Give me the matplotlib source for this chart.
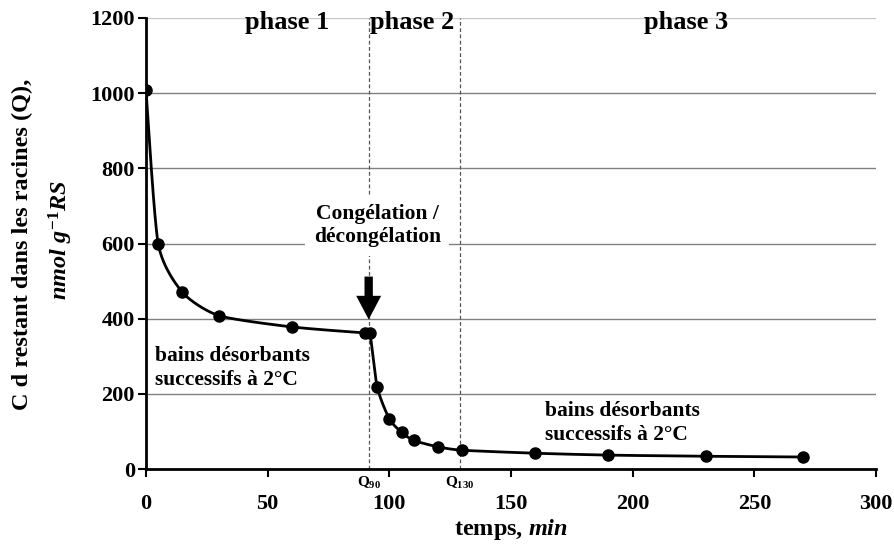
import numpy as np
import matplotlib
matplotlib.use("Agg")
import matplotlib.pyplot as plt

plt.rcParams['font.family'] = ['Liberation Serif', 'DejaVu Serif']
plt.rcParams['mathtext.fontset'] = 'custom'
plt.rcParams['mathtext.rm'] = 'Liberation Serif:bold'
plt.rcParams['mathtext.it'] = 'Liberation Serif:bold:italic'
plt.rcParams['mathtext.bf'] = 'Liberation Serif:bold'

time_min = [0, 5, 15, 30, 60, 90, 92, 95, 100, 105, 110, 120, 130, 160, 190, 230, 270]
cd_remaining = [1008, 600, 470, 408, 378, 362, 362, 218, 133, 98, 76, 59, 50, 42, 37, 34, 32]
x_ticks = [0, 50, 100, 150, 200, 250, 300]
y_ticks = [0, 200, 400, 600, 800, 1000, 1200]
phase_bounds = [91.5, 129]


def catmull_rom(x, y, n=30, tension=0.5):
    x = np.asarray(x, float); y = np.asarray(y, float)
    P = np.column_stack([x, y])
    sx = 1 / 300.0; sy = 1 / 1200.0
    Q = P * [sx, sy]
    out = []
    for i in range(len(Q) - 1):
        p0 = Q[i - 1] if i > 0 else Q[i]
        p1 = Q[i]; p2 = Q[i + 1]
        p3 = Q[i + 2] if i + 2 < len(Q) else Q[i + 1]
        m1 = tension * (p2 - p0) * 0.67
        m2 = tension * (p3 - p1) * 0.67
        t = np.linspace(0, 1, n)[:, None]
        h00 = 2 * t**3 - 3 * t**2 + 1
        h10 = t**3 - 2 * t**2 + t
        h01 = -2 * t**3 + 3 * t**2
        h11 = t**3 - t**2
        seg = h00 * p1 + h10 * m1 + h01 * p2 + h11 * m2
        out.append(seg if i == 0 else seg[1:])
    C = np.vstack(out) / [sx, sy]
    return C[:, 0], C[:, 1]


fig = plt.figure(figsize=(8.94, 5.45), dpi=100)
ax = fig.add_axes([0.1633, 0.1394, 0.8167, 0.8276])

ax.set_xlim(0, 300)
ax.set_ylim(0, 1200)
ax.set_xticks(x_ticks)
ax.set_yticks(y_ticks)
for yv in y_ticks[1:]:
    ax.axhline(yv, color='#808080' if yv < 1200 else '#c8c8c8', lw=1.0, zorder=0)

for xb in phase_bounds:
    ax.axvline(xb, color='#555555', lw=0.9, ls=(0, (3, 2)), zorder=1)

cx, cy = catmull_rom(time_min, cd_remaining)
ax.plot(cx, cy, color='black', lw=2.0, zorder=3)
ax.plot(time_min, cd_remaining, 'o', color='black', ms=8, zorder=4)

for s in ['top', 'right']:
    ax.spines[s].set_visible(False)
for s in ['left', 'bottom']:
    ax.spines[s].set_linewidth(2.0)
ax.tick_params(direction='out', length=6, width=1.5, labelsize=16)
for lab in ax.get_xticklabels() + ax.get_yticklabels():
    lab.set_fontweight('bold')
ax.tick_params(axis='x', pad=12)
ax.tick_params(axis='y', pad=2)

ax.set_xlabel('temps, $\\mathit{min}$', fontsize=17.5, fontweight='bold', labelpad=2)
fig.text(22 / 894, 1 - 244 / 545, 'C d restant dans les racines (Q),', rotation=90,
         ha='center', va='center', fontsize=17.5, fontweight='bold')
fig.text(61 / 894, 1 - 240 / 545, '$\\mathit{nmol\\ g^{-1}RS}$', rotation=90,
         ha='center', va='center', fontsize=17.5, fontweight='bold')

ax.text(58, 1188, 'phase 1', ha='center', va='center', fontsize=19, fontweight='bold')
ax.text(109.5, 1188, 'phase 2', ha='center', va='center', fontsize=19, fontweight='bold')
ax.text(222, 1188, 'phase 3', ha='center', va='center', fontsize=19, fontweight='bold')

ax.text(95, 648, 'Congélation /\ndécongélation', ha='center', va='center', fontsize=15.5,
        fontweight='bold', linespacing=1.25,
        bbox=dict(facecolor='white', edgecolor='none', pad=6), zorder=2)

ax.annotate('', xy=(91.5, 398), xytext=(91.5, 512),
            arrowprops=dict(arrowstyle='simple,head_width=1.8,head_length=1.7,tail_width=0.6',
                            color='black', lw=0, shrinkA=0, shrinkB=0), zorder=5)

ax.text(3.5, 268, 'bains désorbants\nsuccessifs à 2°C', ha='left', va='center',
        fontsize=15.5, fontweight='bold', linespacing=1.25)
ax.text(164, 122, 'bains désorbants\nsuccessifs à 2°C', ha='left', va='center',
        fontsize=15.5, fontweight='bold', linespacing=1.25)

ax.text(phase_bounds[0], -38, '$\\mathbf{Q_{90}}$', ha='center', va='center', fontsize=11,
        fontweight='bold', clip_on=False)
ax.text(phase_bounds[1], -38, '$\\mathbf{Q_{130}}$', ha='center', va='center', fontsize=11,
        fontweight='bold', clip_on=False)

fig.savefig('out.png', dpi=100)
